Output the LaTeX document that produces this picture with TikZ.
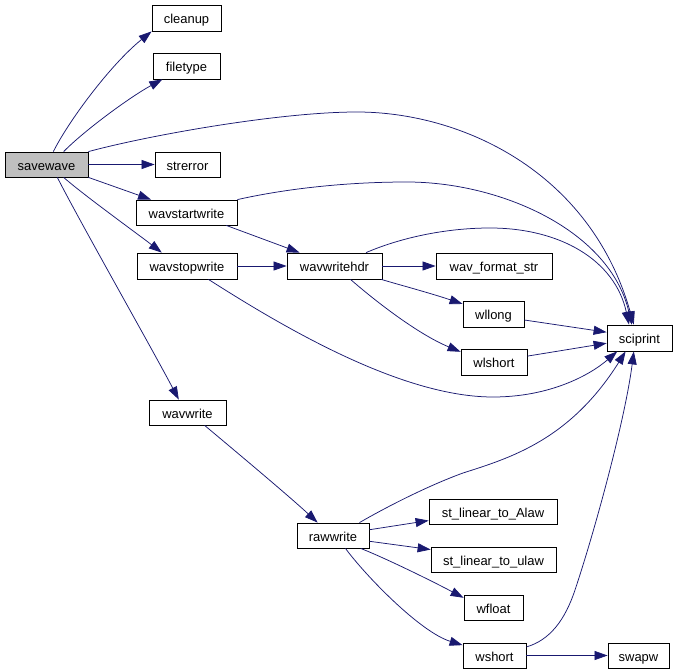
\documentclass[tikz,border=0pt]{standalone}
\usepackage{fontspec}
\setmainfont{Liberation Sans}
\usetikzlibrary{arrows.meta}
\definecolor{edgeblue}{RGB}{25,25,112}
\definecolor{rootgray}{RGB}{191,191,191}

\begin{document}
\begin{tikzpicture}[x=1bp, y=-1bp,
  fn/.style={rectangle, draw, line width=0.8bp, minimum height=25bp, inner sep=0pt,
    text height=11bp, text depth=0bp, font=\fontsize{13}{15}\selectfont},
  root/.style={fn, fill=rootgray},
  call/.style={color=edgeblue, line width=0.75bp, -{Triangle[length=13bp, width=9bp]}}
]
\useasboundingbox (0,0) rectangle (677,671);
\node[root, minimum width=83bp] (savewave) at (46.5,164.5) {savewave};
\node[fn, minimum width=69bp, minimum height=26bp] (cleanup) at (186.5,18) {cleanup};
\node[fn, minimum width=67bp, minimum height=26bp] (filetype) at (186.5,66) {filetype};
\node[fn, minimum width=65bp] (strerror) at (187.5,164.5) {strerror};
\node[fn, minimum width=101bp] (wavstartwrite) at (186.5,212.5) {wavstartwrite};
\node[fn, minimum width=100bp, minimum height=26bp] (wavstopwrite) at (187,266) {wavstopwrite};
\node[fn, minimum width=95bp, minimum height=26bp] (wavwritehdr) at (334.5,266) {wavwritehdr};
\node[fn, minimum width=116bp, minimum height=26bp] (wavformatstr) at (494,266) {wav\_format\_str};
\node[fn, minimum width=61bp, minimum height=26bp] (wllong) at (493.5,314) {wllong};
\node[fn, minimum width=66bp, minimum height=26bp] (wlshort) at (494,362) {wlshort};
\node[fn, minimum width=65bp, minimum height=26bp] (sciprint) at (639.5,338) {sciprint};
\node[fn, minimum width=77bp] (wavwrite) at (187.5,412.5) {wavwrite};
\node[fn, minimum width=72bp] (rawwrite) at (333,535.5) {rawwrite};
\node[fn, minimum width=128bp] (alaw) at (493,511.5) {st\_linear\_to\_Alaw};
\node[fn, minimum width=125bp] (ulaw) at (493.5,559.5) {st\_linear\_to\_ulaw};
\node[fn, minimum width=59bp] (wfloat) at (493.5,607.5) {wfloat};
\node[fn, minimum width=63bp] (wshort) at (494.5,655.5) {wshort};
\node[fn, minimum width=61bp] (swapw) at (638.5,655.5) {swapw};
% calls from savewave
\draw[call] (savewave.62) .. controls (68,122) and (110,65) .. (cleanup.south west);
\draw[call] (savewave.37) .. controls (85,130) and (130,97) .. (filetype.-151);
\draw[call] (savewave.north east) .. controls (150,135) and (280,112) .. (357,112)
  .. controls (460,112) and (590,170) .. (sciprint.113);
\draw[call] (savewave.east) -- (strerror.west);
\draw[call] (savewave.south east) -- (wavstartwrite.160);
\draw[call] (savewave.-37) .. controls (85,196) and (135,232) .. (wavstopwrite.152);
\draw[call] (savewave.-50) .. controls (80,222) and (150,345) .. (wavwrite.124);
% header writing
\draw[call] (wavstartwrite.north east) .. controls (280,190) and (340,182) .. (407,182)
  .. controls (500,182) and (610,230) .. (sciprint.120);
\draw[call] (wavstartwrite.-18) -- (wavwritehdr.159);
\draw[call] (wavstopwrite.east) -- (wavwritehdr.west);
\draw[call] (wavstopwrite.-32) .. controls (280,325) and (400,397) .. (493,397)
  .. controls (550,397) and (590,375) .. (sciprint.-149);
\draw[call] (wavwritehdr.east) -- (wavformatstr.west);
\draw[call] (wavwritehdr.-16) .. controls (400,285) and (430,293) .. (wllong.162);
\draw[call] (wavwritehdr.-40) .. controls (380,305) and (420,335) .. (wlshort.163);
\draw[call] (wavwritehdr.23) .. controls (400,238) and (445,228) .. (490,228)
  .. controls (560,228) and (615,260) .. (sciprint.128);
\draw[call] (wllong.-11) -- (sciprint.170);
\draw[call] (wlshort.10) -- (sciprint.-171);
% data writing
\draw[call] (wavwrite.-37) .. controls (240,455) and (290,497) .. (rawwrite.140);
\draw[call] (rawwrite.26) .. controls (390,505) and (430,485) .. (463,473)
  .. controls (510,458) and (570,440) .. (sciprint.-136);
\draw[call] (rawwrite.9) -- (alaw.-172);
\draw[call] (rawwrite.-9) -- (ulaw.171);
\draw[call] (rawwrite.-25) .. controls (385,558) and (430,580) .. (wfloat.162);
\draw[call] (rawwrite.-46) .. controls (365,575) and (420,632) .. (wshort.162);
\draw[call] (wshort.15) .. controls (550,640) and (565,620) .. (575,590)
  .. controls (595,530) and (625,420) .. (sciprint.-113);
\draw[call] (wshort.east) -- (swapw.west);
\end{tikzpicture}
\end{document}
